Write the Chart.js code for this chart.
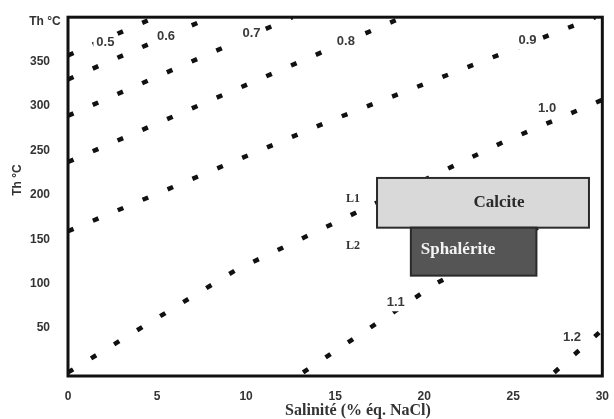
<!DOCTYPE html>
<html lang="fr">
<head>
    <meta charset="UTF-8">
    <title>Th vs Salinité</title>
    <script src="https://cdn.jsdelivr.net/npm/chart.js"></script>
    <style>
        html, body { margin: 0; padding: 0; background: #fff; }
        #wrap { width: 614px; height: 419px; }
    </style>
</head>
<body>
    <div id="wrap"><canvas id="chart" width="614" height="419"></canvas></div>
    <script>
        // axis ticks
        const salTicks = [0, 5, 10, 15, 20, 25, 30];
        const thTicks = [50, 100, 150, 200, 250, 300, 350];

        // density isolines (g/cm3)
        const densities = ['0.5', '0.6', '0.7', '0.8', '0.9', '1.0', '1.1', '1.2'];
        const isoSal = [
            [0, 4.9],
            [0, 8.0],
            [0, 12.6],
            [0, 18.8],
            [0, 14.8, 29.6],
            [0, 9.4, 24.4, 30],
            [13.2, 20.75, 30],
            [27.3, 30]
        ];
        const isoTh = [
            [357, 400],
            [330, 400],
            [289, 400],
            [237, 400],
            [159, 284, 400],
            [0, 115, 259, 307],
            [0, 101, 203],
            [0, 48]
        ];
        // label anchor for each isoline
        const labelSal = [2.1, 5.5, 10.3, 15.6, 25.8, 26.9, 18.4, 28.3];
        const labelTh = [372, 378, 382, 373, 374, 297, 79, 40];

        // mineral fields: [salMin, salMax], [thMin, thMax]
        const fields = ['Calcite', 'Sphalérite'];
        const fieldSal = [[17.35, 29.25], [19.25, 26.3]];
        const fieldTh = [[163, 219], [109, 163]];

        const lineNames = ['L1', 'L2'];
        const lineNameSal = [16.0, 16.0];
        const lineNameTh = [195, 143];

        const datasets = densities.map((d, i) => ({
            label: d,
            data: isoSal[i].map((s, k) => ({ x: s, y: isoTh[i][k] })),
            showLine: true,
            borderColor: '#111',
            borderWidth: 4.5,
            borderDash: [6, 21],
            borderCapStyle: 'butt',
            pointRadius: 0,
            fill: false
        }));

        const overlay = {
            id: 'overlay',
            afterDatasetsDraw(chart) {
                const ctx = chart.ctx;
                const x = chart.scales.x, y = chart.scales.y;
                ctx.save();
                // isoline labels sit in a gap of the dashes
                ctx.font = 'bold 13px "Liberation Sans"';
                ctx.textBaseline = 'middle';
                ctx.textAlign = 'center';
                densities.forEach((d, i) => {
                    const px = x.getPixelForValue(labelSal[i]);
                    const py = y.getPixelForValue(labelTh[i]);
                    const w = ctx.measureText(d).width;
                    ctx.fillStyle = '#fff';
                    ctx.fillRect(px - w / 2 - 3, py - 9, w + 6, 18);
                    ctx.fillStyle = '#3a3a3a';
                    ctx.fillText(d, px, py);
                });

                // mineral boxes
                const fills = ['#d9d9d9', '#555555'];
                const txt = ['#2a2a2a', '#f4f4f4'];
                fields.forEach((f, i) => {
                    const x0 = x.getPixelForValue(fieldSal[i][0]);
                    const x1 = x.getPixelForValue(fieldSal[i][1]);
                    const y0 = y.getPixelForValue(fieldTh[i][1]);
                    const y1 = y.getPixelForValue(fieldTh[i][0]);
                    ctx.fillStyle = fills[i];
                    ctx.fillRect(x0, y0, x1 - x0, y1 - y0);
                    ctx.strokeStyle = '#2b2b2b';
                    ctx.lineWidth = 2;
                    ctx.strokeRect(x0, y0, x1 - x0, y1 - y0);
                });
                ctx.font = 'bold 17px "Liberation Serif"';
                ctx.fillStyle = txt[0];
                ctx.fillText(fields[0], x.getPixelForValue(24.2), y.getPixelForValue(191));
                ctx.fillStyle = txt[1];
                ctx.fillText(fields[1], x.getPixelForValue(21.9), y.getPixelForValue(138));

                // L1 / L2
                ctx.font = 'bold 12px "Liberation Serif"';
                ctx.fillStyle = '#333';
                lineNames.forEach((n, i) => {
                    ctx.fillText(n, x.getPixelForValue(lineNameSal[i]), y.getPixelForValue(lineNameTh[i]));
                });
                ctx.restore();
            },
            afterDraw(chart) {
                const ctx = chart.ctx;
                const a = chart.chartArea;
                ctx.save();
                ctx.strokeStyle = '#111';
                ctx.lineWidth = 3;
                ctx.strokeRect(a.left, a.top, a.right - a.left, a.bottom - a.top);

                ctx.fillStyle = '#333';
                ctx.textAlign = 'center';
                ctx.textBaseline = 'middle';
                ctx.font = 'bold 12px "Liberation Sans"';
                ctx.fillText('Th °C', 45, 22);

                ctx.font = 'bold 16px "Liberation Serif"';
                ctx.fillText('Salinité (% éq. NaCl)', 358, 411);

                ctx.translate(18, 180);
                ctx.rotate(-Math.PI / 2);
                ctx.font = 'bold 12px "Liberation Sans"';
                ctx.fillText('Th °C', 0, 0);
                ctx.restore();
            }
        };

        new Chart(document.getElementById('chart'), {
            type: 'scatter',
            data: { datasets: datasets },
            options: {
                responsive: false,
                animation: false,
                layout: { padding: { top: 16, right: 5, left: 0, bottom: 0 } },
                plugins: { legend: { display: false }, tooltip: { enabled: false } },
                scales: {
                    x: {
                        min: 0,
                        max: 30,
                        afterBuildTicks: s => { s.ticks = salTicks.map(v => ({ value: v })); },
                        afterFit: s => { s.height = 43; },
                        grid: { display: false },
                        border: { display: false },
                        ticks: {
                            padding: 5,
                            color: '#333',
                            font: { family: 'Liberation Sans', size: 12, weight: 'bold' }
                        }
                    },
                    y: {
                        min: -4,
                        max: 400,
                        afterBuildTicks: s => { s.ticks = thTicks.map(v => ({ value: v })); },
                        afterFit: s => { s.width = 68; },
                        grid: { display: false },
                        border: { display: false },
                        ticks: {
                            padding: 10,
                            color: '#333',
                            font: { family: 'Liberation Sans', size: 12, weight: 'bold' }
                        }
                    }
                }
            },
            plugins: [overlay]
        });
    </script>
</body>
</html>
